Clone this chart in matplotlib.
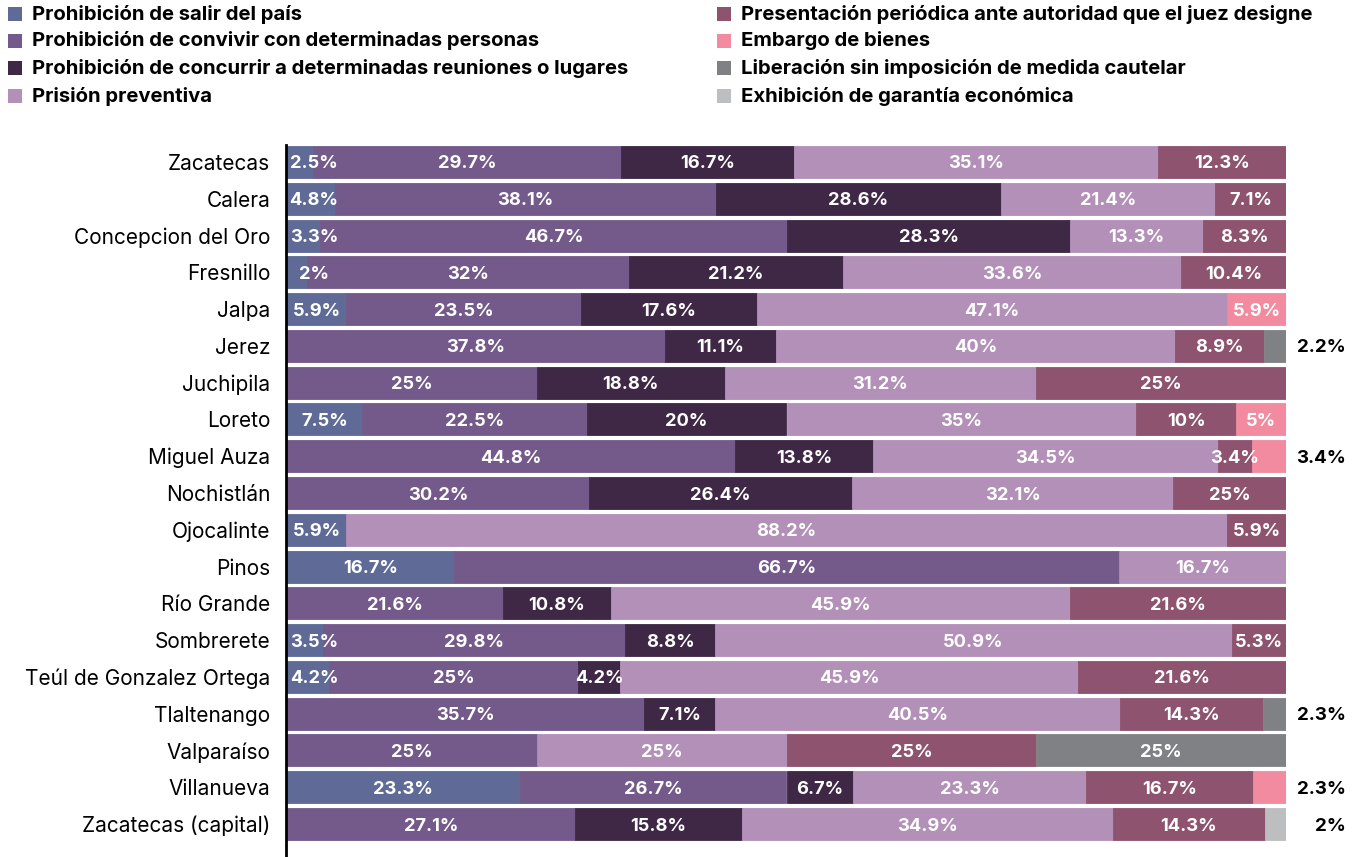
import numpy as np
import matplotlib.pyplot as plt
from matplotlib.patches import Rectangle

plt.rcParams['font.family'] = ['Inter', 'DejaVu Sans']

# categories (rows, top to bottom)
municipios = ["Zacatecas", "Calera", "Concepcion del Oro", "Fresnillo", "Jalpa", "Jerez",
              "Juchipila", "Loreto", "Miguel Auza", "Nochistlán", "Ojocalinte", "Pinos",
              "Río Grande", "Sombrerete", "Teúl de Gonzalez Ortega", "Tlaltenango",
              "Valparaíso", "Villanueva", "Zacatecas (capital)"]

medidas = ["Prohibición de salir del país",
           "Prohibición de convivir con determinadas personas",
           "Prohibición de concurrir a determinadas reuniones o lugares",
           "Prisión preventiva",
           "Presentación periódica ante autoridad que el juez designe",
           "Embargo de bienes",
           "Liberación sin imposición de medida cautelar",
           "Exhibición de garantía económica"]

colores = ["#5f6b96", "#735a8a", "#3f2846", "#b390b8", "#8e536f", "#f28ba0", "#808185", "#bdbec0"]

# series values per medida (one value per municipio)
salir       = [2.5, 4.8, 3.3, 2.0, 5.9, 0, 0, 7.5, 0, 0, 5.9, 16.7, 0, 3.5, 4.2, 0, 0, 23.3, 0]
convivir    = [29.7, 38.1, 46.7, 32.0, 23.5, 37.8, 25.0, 22.5, 44.8, 30.2, 0, 66.7, 21.6, 29.8, 25.0, 35.7, 25.0, 26.7, 27.1]
concurrir   = [16.7, 28.6, 28.3, 21.2, 17.6, 11.1, 18.8, 20.0, 13.8, 26.4, 0, 0, 10.8, 8.8, 4.2, 7.1, 0, 6.7, 15.8]
prision     = [35.1, 21.4, 13.3, 33.6, 47.1, 40.0, 31.2, 35.0, 34.5, 32.1, 88.2, 16.7, 45.9, 50.9, 45.9, 40.5, 25.0, 23.3, 34.9]
presentacion = [12.3, 7.1, 8.3, 10.4, 0, 8.9, 25.0, 10.0, 3.4, 11.3, 5.9, 0, 21.6, 5.3, 20.8, 14.3, 25.0, 16.7, 14.3]
embargo     = [0, 0, 0, 0, 5.9, 0, 0, 5.0, 3.4, 0, 0, 0, 0, 0, 0, 0, 0, 3.3, 0]
liberacion  = [0, 0, 0, 0, 0, 2.2, 0, 0, 0, 0, 0, 0, 0, 0, 0, 2.3, 25.0, 0, 0]
garantia    = [0, 0, 0, 0, 0, 0, 0, 0, 0, 0, 0, 0, 0, 0, 0, 0, 0, 0, 2.0]

# printed labels that differ from the drawn width in the source chart
etiquetas_fijas = {(9, 4): "25%", (14, 4): "21.6%", (17, 5): "2.3%"}

datos = np.array([salir, convivir, concurrir, prision, presentacion, embargo, liberacion, garantia]).T
pct = datos / datos.sum(axis=1, keepdims=True) * 100

def fmt(v):
    s = ("%.1f" % v).rstrip("0").rstrip(".")
    return s + "%"

fig = plt.figure(figsize=(13.57, 8.57), dpi=100)
ax = fig.add_axes([287 / 1357, 0, (1286 - 287) / 1357, 1 - 145 / 857])

y = np.arange(len(municipios))
izq = np.zeros(len(municipios))
for j, med in enumerate(medidas):
    ax.barh(y, pct[:, j], left=izq, height=0.87, color=colores[j],
            edgecolor=colores[j], linewidth=0.6)
    for i in range(len(municipios)):
        v = datos[i, j]
        if v <= 0:
            continue
        texto = etiquetas_fijas.get((i, j), fmt(v))
        ultimo = not np.any(datos[i, j + 1:] > 0)
        if ultimo and pct[i, j] < 4.0:
            ax.text(106.0, i, texto, ha="right", va="center_baseline", fontsize=13.5,
                    fontweight="bold", color="black", clip_on=False)
        else:
            cx = izq[i] + pct[i, j] / 2
            cx = max(cx, 2.7)
            ax.text(cx, i, texto, ha="center", va="center_baseline", fontsize=13.2,
                    fontweight="bold", color="white")
    izq += pct[:, j]

ax.set_xlim(0, 100)
ax.set_ylim((857 - 162) / 36.78, -(162 - 145) / 36.78)
ax.set_yticks(y, municipios)
ax.tick_params(axis="y", length=0, pad=11, labelsize=15)
ax.set_xticks([])
for s in ["top", "right", "bottom"]:
    ax.spines[s].set_visible(False)
ax.spines["left"].set_linewidth(2)
ax.spines["left"].set_position(("data", -0.15))

# legend, two columns of four
W, H = 1357, 857
for k, med in enumerate(medidas):
    col, fila = divmod(k, 4)
    x0 = 8 if col == 0 else 717
    yc = [14, 41, 68, 96][fila]
    fig.add_artist(Rectangle((x0 / W, 1 - (yc + 7) / H), 14 / W, 14 / H,
                             transform=fig.transFigure, color=colores[k], lw=0))
    fig.text((x0 + 24) / W, 1 - yc / H, med, ha="left", va="center",
             fontsize=14.6, fontweight="bold")

fig.savefig("out.png", dpi=100)
